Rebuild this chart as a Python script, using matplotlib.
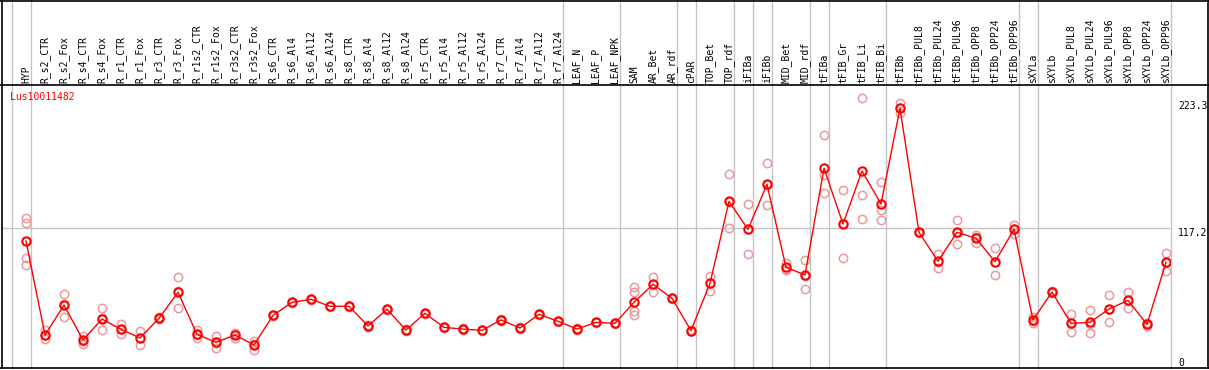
import matplotlib
matplotlib.use("Agg")
import matplotlib.pyplot as plt
from matplotlib.lines import Line2D
from matplotlib.transforms import blended_transform_factory
import numpy as np

gene = "Lus10011482"

samples = [
    "HYP", "R_s2_CTR", "R_s2_Fox", "R_s4_CTR", "R_s4_Fox", "R_r1_CTR", "R_r1_Fox",
    "R_r3_CTR", "R_r3_Fox", "R_r1s2_CTR", "R_r1s2_Fox", "R_r3s2_CTR", "R_r3s2_Fox",
    "R_s6_CTR", "R_s6_Al4", "R_s6_Al12", "R_s6_Al24", "R_s8_CTR", "R_s8_Al4",
    "R_s8_Al12", "R_s8_Al24", "R_r5_CTR", "R_r5_Al4", "R_r5_Al12", "R_r5_Al24",
    "R_r7_CTR", "R_r7_Al4", "R_r7_Al12", "R_r7_Al24", "LEAF_N", "LEAF_P", "LEAF_NPK",
    "SAM", "AR_Bet", "AR_rdf", "cPAR", "TOP_Bet", "TOP_rdf", "iFIBa", "iFIBb",
    "MID_Bet", "MID_rdf", "tFIBa", "tFIB_Gr", "tFIB_Li", "tFIB_Bi", "tFIBb",
    "tFIBb_PUL8", "tFIBb_PUL24", "tFIBb_PUL96", "tFIBb_OPP8", "tFIBb_OPP24",
    "tFIBb_OPP96", "sXYLa", "sXYLb", "sXYLb_PUL8", "sXYLb_PUL24", "sXYLb_PUL96",
    "sXYLb_OPP8", "sXYLb_OPP24", "sXYLb_OPP96",
]

# sizes of the sample groups (separated by grey lines)
group_sizes = [1, 28, 3, 3, 1, 2, 1, 1, 2, 1, 3, 7, 1, 7]

means = [
    106.3, 27.6, 52.7, 23.4, 41.0, 32.4, 25.1, 41.6, 63.4, 28.2, 21.5, 27.6, 19.3,
    44.1, 55.0, 57.5, 51.7, 51.7, 35.2, 49.1, 31.8, 45.8, 34.0, 32.6, 31.5,
    40.2, 33.5, 44.9, 39.1, 32.6, 38.2, 37.4, 55.0, 70.1, 58.3, 31.3, 70.9,
    139.5, 116.1, 153.8, 84.3, 77.9, 167.2, 120.6, 164.9, 137.3, 217.4,
    113.6, 89.3, 113.6, 108.6, 89.0, 116.1, 40.2, 63.6, 37.4, 38.2, 49.4,
    56.6, 36.5, 88.5,
]

replicates = [
    [125.3, 121.1, 91.8, 86.2], [31.5, 27.5, 24.0], [61.7, 53.4, 43.0],
    [27.1, 22.7, 20.5], [50.0, 41.5, 31.5], [36.6, 32.4, 28.2], [31.0, 25.3, 19.0],
    [42.5, 41.6, 40.7], [75.9, 64.3, 50.0], [31.8, 27.4, 25.4], [26.8, 21.2, 16.5],
    [29.0, 28.4, 25.4], [22.9, 19.9, 15.1],
    [44.6, 44.1, 43.6], [55.5, 55.0, 54.5], [58.0, 57.5, 57.0], [52.2, 51.7, 51.2],
    [52.2, 51.7, 51.2], [35.7, 35.2, 34.7], [49.6, 49.1, 48.6], [32.3, 31.8, 31.3],
    [46.3, 45.8, 45.3], [34.5, 34.0, 33.5], [33.1, 32.6, 32.1], [32.0, 31.5, 31.0],
    [40.7, 40.2, 39.7], [34.0, 33.5, 33.0], [45.4, 44.9, 44.4], [39.6, 39.1, 38.6],
    [33.1, 32.6, 32.1], [38.7, 38.2, 37.7], [37.9, 37.4, 36.9],
    [67.5, 63.9, 48.0, 44.4], [76.5, 70.4, 63.4], [58.8, 58.3, 57.8],
    [31.8, 31.3, 30.8], [77.0, 71.0, 64.7], [162.4, 139.2, 116.9],
    [137.0, 116.1, 95.2], [171.6, 153.3, 136.5], [87.7, 83.2, 82.0],
    [90.4, 77.2, 66.1], [195.1, 161.6, 146.3], [149.0, 121.0, 91.8],
    [225.8, 144.8, 124.7], [155.5, 132.3, 123.9], [221.6, 217.4, 213.2],
    [114.1, 113.6, 113.1], [95.4, 89.1, 83.4], [123.9, 113.4, 103.5],
    [111.3, 109.6, 104.9], [100.2, 88.9, 77.9], [119.7, 116.4, 112.2],
    [43.0, 39.6, 38.0], [64.1, 63.6, 63.1], [44.9, 37.4, 29.9],
    [48.6, 37.0, 29.0], [61.1, 49.0, 38.2], [63.6, 55.7, 50.5],
    [37.5, 37.0, 35.0], [96.5, 87.5, 81.5],
]

y_labels = ["223.3", "117.2", "0"]
y_label_vals = [223.3, 117.2, 0]
grid_val = 117.2

W, H = 1209, 370
fig = plt.figure(figsize=(W / 100, H / 100), dpi=100)
fig.patch.set_facecolor("white")

# plot area in pixels: x 1..1170, y 85..368
ax = fig.add_axes([1 / W, (H - 368) / H, 1169 / W, 283 / H])
ax.set_xlim((1 - 26) / 19, (1170 - 26) / 19)
ax.set_ylim(0, 283 / 1.1945)
ax.axis("off")

mono = "DejaVu Sans Mono"
grey = "#c4c4c4"

# group separators
starts = np.concatenate([[0], np.cumsum(group_sizes)]) - 0.76
for s in starts:
    ax.axvline(s, ymin=0, ymax=368 / 283, color=grey, lw=1, clip_on=False, zorder=1)
ax.axhline(grid_val, color=grey, lw=1, zorder=1)

x = np.arange(len(samples))
for i, reps in enumerate(replicates):
    ax.plot([i] * len(reps), reps, linestyle="none", marker="o", ms=6,
            mfc="none", mec="#eb9a9a", mew=1.1, zorder=2)
ax.plot(x, means, color="red", lw=1, marker="o", ms=6, mfc="none",
        mec="red", mew=1.5, zorder=3)

trans = blended_transform_factory(ax.transData, ax.transAxes)
for i, name in enumerate(samples):
    ax.text(i, (368 - 83) / 283, name, rotation=90, ha="center", va="bottom",
            fontsize=7, family=mono, transform=trans, clip_on=False)

fig.text(10 / W, (H - 97) / H, gene, color="red", fontsize=7, family=mono,
         ha="left", va="center")

for lab, v in zip(y_labels, y_label_vals):
    ypx = 368 - v * 1.1945 + 5
    ypx = min(ypx, 363)
    fig.text(1178 / W, (H - ypx) / H, lab, fontsize=7, family=mono,
             ha="left", va="center")

# outer frame and header separator
def fline(x0, y0, x1, y1):
    fig.add_artist(Line2D([x0 / W, x1 / W], [(H - y0) / H, (H - y1) / H],
                          color="black", lw=1.2, transform=fig.transFigure))

fline(0, 0.5, W, 0.5)
fline(1.5, 0, 1.5, 368)
fline(W - 1.5, 0, W - 1.5, 368)
fline(0, 368, W, 368)
fline(0, 85, W, 85)

fig.savefig("out.png", dpi=100)
